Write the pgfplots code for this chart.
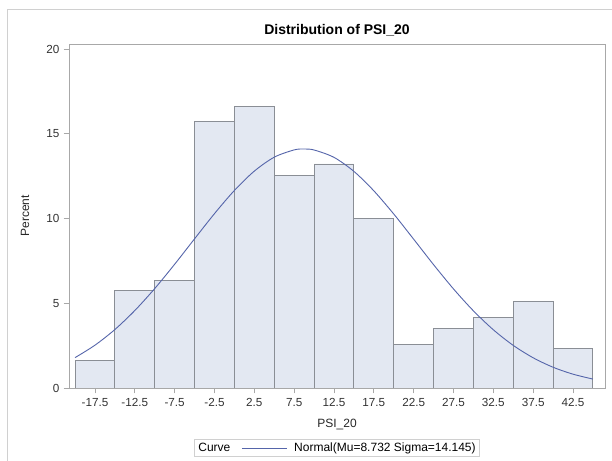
\documentclass[border=0pt]{standalone}
\usepackage{pgfplots}
\pgfplotsset{compat=1.18}
\usepackage{fontspec}
\setmainfont{Liberation Sans}
\definecolor{barfill}{HTML}{E3E8F2}
\definecolor{baredge}{HTML}{8A8E95}
\definecolor{curvec}{HTML}{5565AA}
\definecolor{axisc}{HTML}{A8A8A8}
\definecolor{framec}{HTML}{D0D0D0}
\begin{document}
\begin{tikzpicture}[x=1bp,y=1bp]
\useasboundingbox (0,0) rectangle (612,461);
\draw[framec, line width=1bp] (7,0) -- (7,451) -- (612,451);
\begin{axis}[
  at={(69bp,73bp)}, anchor=south west,
  scale only axis, width=536bp, height=344bp,
  xmin=-20.76, xmax=46.52, ymin=0, ymax=20.3,
  axis line style={axisc, line width=0.8bp},
  tick style={axisc, line width=0.8bp},
  tick align=outside, major tick length=5.5bp,
  xtick={-17.5,-12.5,-7.5,-2.5,2.5,7.5,12.5,17.5,22.5,27.5,32.5,37.5,42.5},
  xticklabels={-17.5,-12.5,-7.5,-2.5,2.5,7.5,12.5,17.5,22.5,27.5,32.5,37.5,42.5},
  ytick={0,5,10,15,20},
  /pgf/number format/assume math mode=true,
  tick label style={font=\fontsize{11.7bp}{13bp}\selectfont, text=black!80},
  xticklabel style={yshift=-1bp},
  yticklabel style={xshift=-0.5bp},
  xtick pos=bottom, ytick pos=left,
  title={Distribution of PSI\_20},
  title style={font=\bfseries\fontsize{14bp}{16bp}\selectfont, at={(0.5,1)}, anchor=base, yshift=4bp},
  xlabel={PSI\_20},
  ylabel={Percent},
  label style={font=\fontsize{12bp}{14bp}\selectfont, text=black!85},
  xlabel style={at={(axis description cs:0.5,0)}, anchor=center, yshift=-37bp},
  ylabel style={at={(axis description cs:-0.082,0.5)}, anchor=center, rotate=0},
  legend columns=2,
  legend image code/.code={\draw[#1] (0bp,0bp) -- (45bp,0bp); \path (50bp,0bp);},
  legend style={at={(0.5,-0.1744)}, anchor=center, draw=framec, line width=0.8bp,
    font=\fontsize{12bp}{14bp}\selectfont, inner xsep=1.5bp, inner ysep=1.5bp},
  legend cell align=left,
]
\addlegendimage{empty legend}
\addlegendentry{Curve\hspace*{9bp}}
\addplot[ybar interval, fill=barfill, draw=baredge, line width=0.9bp, forget plot] coordinates {
(-20,1.61) (-15,5.75) (-10,6.37) (-5,15.72) (0,16.63) (5,12.53) (10,13.22)
(15,10.02) (20,2.57) (25,3.51) (30,4.14) (35,5.10) (40,2.35) (45,2.35)};
\addplot[curvec, line width=0.9bp, smooth, mark=none] coordinates {
(-20,1.792) (-17.5,2.526) (-15,3.451) (-12.5,4.571) (-10,5.868) (-7.5,7.301)
(-5,8.803) (-2.5,10.289) (0,11.656) (2.5,12.798) (5,13.620) (7.5,14.049)
(8.732,14.102) (10,14.045) (12.5,13.610) (15,12.783) (17.5,11.637) (20,10.268)
(22.5,8.782) (25,7.279) (27.5,5.848) (30,4.554) (32.5,3.437) (35,2.515)
(37.5,1.783) (40,1.225) (42.5,0.816) (45,0.527)};
\addlegendentry{Normal(Mu=8.732 Sigma=14.145)}
\end{axis}
\end{tikzpicture}
\end{document}
